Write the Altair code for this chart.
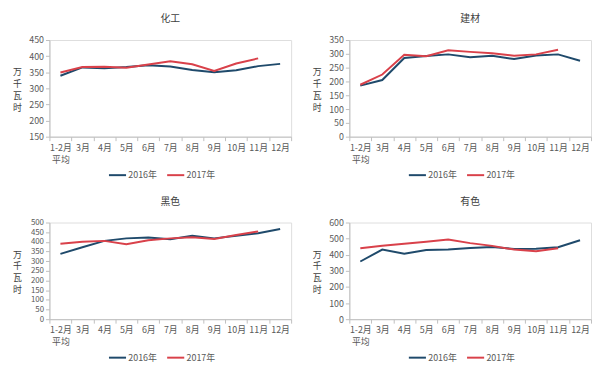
import altair as alt
import pandas as pd

months = ["1-2月", "3月", "4月", "5月", "6月", "7月", "8月", "9月", "10月", "11月", "12月"]
series_names = ["2016年", "2017年"]

titles = ["化工", "建材", "黑色", "有色"]

chem_2016 = [339, 365, 362, 366, 372, 368, 357, 350, 356, 369, 376]
chem_2017 = [349, 366, 367, 364, 374, 384, 375, 354, 377, 393]

build_2016 = [185, 205, 285, 292, 298, 288, 293, 281, 294, 298, 275]
build_2017 = [188, 225, 297, 291, 313, 307, 302, 293, 298, 315]

black_2016 = [338, 372, 405, 418, 422, 413, 432, 418, 432, 444, 466]
black_2017 = [390, 400, 405, 388, 408, 418, 424, 415, 435, 454]

nonf_2016 = [358, 432, 406, 430, 433, 442, 448, 436, 437, 447, 490]
nonf_2017 = [440, 456, 468, 480, 494, 472, 455, 432, 422, 440]

y_domains = [(150, 450), (0, 350), (0, 500), (0, 600)]
y_steps = [50, 50, 50, 100]
y_label_sizes = [9, 9, 8, 9]

panel_data = [
    (chem_2016, chem_2017),
    (build_2016, build_2017),
    (black_2016, black_2017),
    (nonf_2016, nonf_2017),
]

colors = ["#1F4A6B", "#D9414A"]
label_color = "#595959"
font = "Noto Sans CJK SC"


def make_panel(i):
    s16, s17 = panel_data[i]
    rows = []
    for m, v in zip(months, s16):
        rows.append({"month": m, "value": v, "series": series_names[0]})
    for m, v in zip(months, s17):
        rows.append({"month": m, "value": v, "series": series_names[1]})
    df = pd.DataFrame(rows)
    lo, hi = y_domains[i]
    ticks = list(range(lo, hi + 1, y_steps[i]))
    return (
        alt.Chart(df, title=alt.TitleParams(titles[i], fontSize=10, font=font,
                                            fontWeight="normal", color="#404040", offset=12))
        .mark_line(strokeWidth=2)
        .encode(
            x=alt.X("month:N", sort=months, bandPosition=0.5,
                    scale=alt.Scale(type="band", domain=months, paddingInner=0, paddingOuter=0),
                    axis=alt.Axis(title=None, labelAngle=0, tickBand="extent", grid=False,
                                  labelExpr="datum.value == '1-2月' ? ['1-2月', '平均'] : datum.value",
                                  labelFontSize=9, labelColor=label_color, labelFont=font,
                                  domainColor="#BFBFBF", tickColor="#BFBFBF", tickSize=4,
                                  labelPadding=3, labelLineHeight=12)),
            y=alt.Y("value:Q",
                    scale=alt.Scale(domain=[lo, hi], nice=False, zero=False),
                    axis=alt.Axis(values=ticks, grid=False,
                                  title=["万", "千", "瓦", "时"], titleAngle=0,
                                  titleX=-33, titleY=32, titleAlign="center",
                                  titleBaseline="middle", titleFontSize=9, titleLineHeight=12,
                                  titleFontWeight="normal", titleColor="#404040", titleFont=font,
                                  labelFontSize=y_label_sizes[i], labelColor=label_color,
                                  labelFont=font,
                                  domainColor="#BFBFBF", tickColor="#BFBFBF", tickSize=4,
                                  labelPadding=2)),
            color=alt.Color("series:N",
                            scale=alt.Scale(domain=series_names, range=colors),
                            legend=alt.Legend(title=None, orient="none", direction="horizontal",
                                              legendX=59, legendY=127,
                                              symbolType="stroke", symbolStrokeWidth=2,
                                              symbolSize=300, labelFontSize=9,
                                              labelColor=label_color, labelFont=font,
                                              columnPadding=6, labelOffset=1)),
        )
        .properties(width=245, height=98)
    )


row1 = alt.hconcat(make_panel(0), make_panel(1), spacing=19).resolve_legend(color="independent")
row2 = alt.hconcat(make_panel(2), make_panel(3), spacing=19).resolve_legend(color="independent")

chart = (
    alt.vconcat(row1, row2, spacing=15)
    .resolve_legend(color="independent")
    .properties(padding={"left": 3, "top": 3, "right": 0, "bottom": 0})
    .configure_view(stroke=None)
    .configure(background="white")
)

chart.save("out.html", embed_options={"renderer": "svg", "actions": False})
